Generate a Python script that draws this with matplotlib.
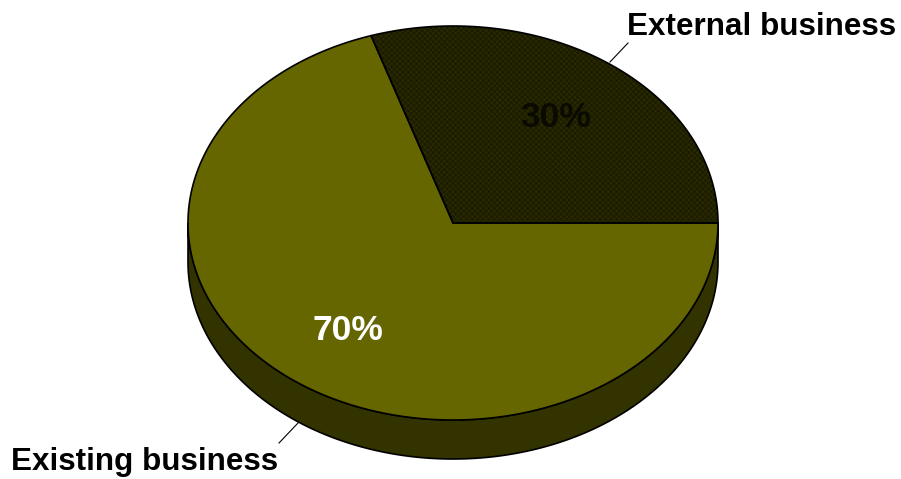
import numpy as np
import matplotlib
matplotlib.use("Agg")
import matplotlib.pyplot as plt
from matplotlib.patches import Polygon

plt.rcParams['font.family'] = ['Liberation Sans', 'DejaVu Sans']
plt.rcParams['hatch.linewidth'] = 0.5

# Data
labels = ["External business", "Existing business"]
values = [30, 70]
pct_labels = ["30%", "70%"]

# Styles
top_colors = ["#1c1c00", "#666600"]
side_colors = ["#141400", "#333300"]
pct_colors = ["#0a0a00", "white"]

W, H = 901, 479
fig = plt.figure(figsize=(W / 100, H / 100), dpi=100)
ax = fig.add_axes([0, 0, 1, 1])
ax.set_xlim(0, W)
ax.set_ylim(H, 0)
ax.axis("off")

cx, cy = 453.0, 223.0
rx, ry = 265.0, 197.0
depth = 39.0


def pt(theta_deg, dy=0.0):
    t = np.radians(theta_deg)
    return cx + rx * np.cos(t), cy - ry * np.sin(t) + dy


fracs = np.array(values, dtype=float) / sum(values)
bounds = np.concatenate([[0.0], np.cumsum(fracs) * 360.0])

# Side walls (only the front half, 180..360 deg, is visible)
for i in range(len(values)):
    a0, a1 = bounds[i], bounds[i + 1]
    s0, s1 = max(a0, 180.0), min(a1, 360.0)
    if s1 <= s0:
        continue
    th = np.linspace(s0, s1, 200)
    top = [pt(t) for t in th]
    bot = [pt(t, depth) for t in th[::-1]]
    poly = Polygon(top + bot, closed=True, facecolor=side_colors[i],
                   edgecolor="black", linewidth=1.2, zorder=1)
    ax.add_patch(poly)

# Top faces
for i in range(len(values)):
    a0, a1 = bounds[i], bounds[i + 1]
    th = np.linspace(a0, a1, 300)
    verts = [(cx, cy)] + [pt(t) for t in th]
    if i == 0:
        poly = Polygon(verts, closed=True, facecolor=top_colors[i],
                       edgecolor="#2e2e00", hatch="xxxxxx", linewidth=0,
                       zorder=2)
        ax.add_patch(poly)
        ax.add_patch(Polygon(verts, closed=True, facecolor="none",
                             edgecolor="black", linewidth=1.2, zorder=3))
    else:
        ax.add_patch(Polygon(verts, closed=True, facecolor=top_colors[i],
                             edgecolor="black", linewidth=1.2, zorder=2))

# Percentage labels
pct_pos = [(556, 117), (348, 331)]
for (x, y), s, c in zip(pct_pos, pct_labels, pct_colors):
    ax.text(x, y, s, color=c, fontsize=25.5, fontweight="bold",
            ha="center", va="center", zorder=5)

# Category labels with leader lines
ax.text(627, 27, labels[0], fontsize=22.6, fontweight="bold",
        ha="left", va="center", color="black", zorder=5)
ax.plot([628, 610], [43, 62], color="black", linewidth=0.8, zorder=4)

ax.text(11, 462, labels[1], fontsize=22.6, fontweight="bold",
        ha="left", va="center", color="black", zorder=5)
ax.plot([279, 298], [443, 423], color="black", linewidth=0.8, zorder=4)

fig.savefig("out.png", dpi=100)
